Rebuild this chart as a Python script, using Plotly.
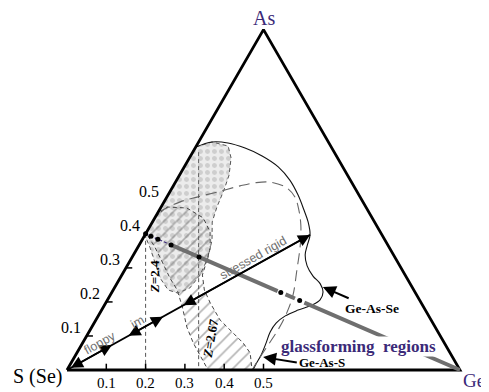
import numpy as np
import plotly.graph_objects as go

# ---------------- data: compositions as atomic fractions (Ge, As); S(Se) = 1 - Ge - As
vertex_labels = ["S (Se)", "Ge", "As"]
left_tick_values = [0.1, 0.2, 0.3, 0.4, 0.5]          # As fraction on S-As edge
left_tick_labels = ["0.1", "0.2", "0.3", "0.4", "0.5"]
bottom_tick_values = [0.1, 0.2, 0.3, 0.4, 0.5]        # Ge fraction on S-Ge edge
bottom_tick_labels = ["0.1", "0.2", "0.3", "0.4", "0.5"]
left_tick_marks = [0.1, 0.2, 0.3]
bottom_tick_marks = [0.1, 0.2, 0.3, 0.4, 0.5]

# Ge-As-Se glass-forming region (solid outline)
se_region_ge = [0, .034, .076, .127, .182, .239, .288, .331, .368, .396, .420, .428, .437,
                .458, .488, .518, .537, .541, .528, .500, .476, .463, .461, .467, .472, .472, .473]
se_region_as = [.655, .670, .667, .652, .629, .597, .558, .514, .470, .435, .397, .367, .338,
                .306, .276, .253, .229, .206, .191, .176, .159, .138, .112, .079, .044, .018, 0]

# Ge-As-S glass-forming region (long-dashed outline)
s_region_ge = [0, .041, .077, .121, .170, .203, .241, .292, .326, .355, .382, .410, .438,
               .465, .475, .478, .475, .472, .471]
s_region_as = [.464, .494, .508, .523, .541, .550, .552, .535, .508, .470, .426, .367, .294,
               .220, .170, .123, .073, .029, 0]

# hatched band (intermediate phase, Ge-As-S)
hatch_ge = [0, .015, .067, .123, .161, .185, .196, .205, .232, .266, .316, .368, .409, .441,
            .471, .359, .330, .282, .242, .201, .163, .127, .084, .045, .009, 0, 0]
hatch_as = [.45, .479, .476, .447, .406, .359, .317, .279, .235, .197, .147, .109, .079, .050,
            0, 0, .029, .079, .126, .185, .235, .270, .317, .359, .394, .40, .45]

# dotted band (intermediate phase, Ge-As-Se)
dot_ge = [0, .034, .081, .106, .126, .135, .142, .152, .178, .194, .199, .192, .169, .140,
          .102, .066, .032, .007, 0, 0]
dot_as = [.655, .670, .658, .623, .573, .529, .479, .435, .382, .329, .279, .241, .226, .235,
          .270, .317, .359, .388, .394, .655]

# mean coordination lines  Z = 2 + 2*Ge + As
z_values = [2.4, 2.67]
z_top_as = [0.40, 0.64]
z_labels = ["Z=2.4", "Z=2.67"]

# As2X3 - Ge tie line (t = Ge fraction along it)
tie_start_as = 0.40
tie_dots_t = [0, .017, .039, .081, .17, .43, .49]
tie_solid_segments = [(.081, .42), (.445, .475), (.505, 1.0)]

# S - GeAs direction line with floppy / intermediate / stressed rigid arrows
rig_end_ge, rig_end_as = 0.420, 0.397
regime_arrows_s = [(0.01, 0.185), (0.247, 0.395), (0.473, 1.0)]

SQ = np.sqrt(3) / 2


def cart(ge, a):
    ge = np.asarray(ge, dtype=float)
    a = np.asarray(a, dtype=float)
    return ge + a / 2, a * SQ


fig = go.Figure()
SERIF = "Liberation Serif, Times New Roman, serif"
SANS = "Liberation Sans, Arial, sans-serif"
PURPLE = "#3b2a78"

# dotted band
x, y = cart(dot_ge, dot_as)
fig.add_trace(go.Scatter(x=x, y=y, mode="lines", fill="toself", fillcolor="rgba(0,0,0,0)",
                         fillpattern=dict(shape=".", size=7, solidity=0.4, fgcolor="#b0b0b0",
                                          bgcolor="#ececec"),
                         line=dict(color="#555555", width=1, dash="4px,3px"), hoverinfo="skip"))
# hatched band
x, y = cart(hatch_ge, hatch_as)
fig.add_trace(go.Scatter(x=x, y=y, mode="lines", fill="toself", fillcolor="rgba(0,0,0,0)",
                         fillpattern=dict(shape="/", size=9, solidity=0.18, fgcolor="#6a6a6a",
                                          bgcolor="rgba(0,0,0,0)"),
                         line=dict(color="#444444", width=1, dash="4px,3px"), hoverinfo="skip"))
# Ge-As-Se outline
x, y = cart(se_region_ge, se_region_as)
fig.add_trace(go.Scatter(x=x, y=y, mode="lines", line=dict(color="#111111", width=1.1, shape="spline"),
                         hoverinfo="skip"))
# Ge-As-S outline
x, y = cart(s_region_ge, s_region_as)
fig.add_trace(go.Scatter(x=x, y=y, mode="lines",
                         line=dict(color="#666666", width=1.1, dash="11px,6px", shape="spline"),
                         hoverinfo="skip"))
# Z lines
for z, ta in zip(z_values, z_top_as):
    ge_top = (z - 2 - ta) / 2
    ge_bot = (z - 2) / 2
    x, y = cart([ge_top, ge_bot], [ta, 0])
    fig.add_trace(go.Scatter(x=x, y=y, mode="lines",
                             line=dict(color="#555555", width=1, dash="4px,3px"), hoverinfo="skip"))

# triangle
x, y = cart([0, 1, 0, 0], [0, 0, 1, 0])
fig.add_trace(go.Scatter(x=x, y=y, mode="lines", line=dict(color="black", width=2.8),
                         hoverinfo="skip"))

# ticks
tx, ty = [], []
for v in left_tick_marks:
    x0, y0 = cart(0, v)
    tx += [float(x0), float(x0) + 0.016, None]
    ty += [float(y0), float(y0), None]
for v in bottom_tick_marks:
    x0, y0 = cart(v, 0)
    tx += [float(x0), float(x0), None]
    ty += [0.0, 0.016, None]
fig.add_trace(go.Scatter(x=tx, y=ty, mode="lines", line=dict(color="black", width=1.5),
                         hoverinfo="skip"))

# tie line
def tie(t):
    t = np.asarray(t, dtype=float)
    return cart(t, tie_start_as * (1 - t))

x, y = tie([0, 0.081])
fig.add_trace(go.Scatter(x=x, y=y, mode="lines", line=dict(color=PURPLE, width=1.2, dash="3px,2px"),
                         hoverinfo="skip"))
for a, b in tie_solid_segments:
    x, y = tie([a, b])
    fig.add_trace(go.Scatter(x=x, y=y, mode="lines", line=dict(color="#6f6f6f", width=4),
                             hoverinfo="skip"))
x, y = tie(tie_dots_t)
fig.add_trace(go.Scatter(x=x, y=y, mode="markers", marker=dict(color="black", size=5),
                         hoverinfo="skip"))

# rigidity direction line
x, y = cart([0, rig_end_ge], [0, rig_end_as])
fig.add_trace(go.Scatter(x=x, y=y, mode="lines", line=dict(color="black", width=1.8),
                         hoverinfo="skip"))

ann = []
for s0, s1 in regime_arrows_s:
    x0, y0 = cart(rig_end_ge * s0, rig_end_as * s0)
    x1, y1 = cart(rig_end_ge * s1, rig_end_as * s1)
    ann.append(dict(x=float(x1), y=float(y1), ax=float(x0), ay=float(y0), xref="x", yref="y",
                    axref="x", ayref="y", text="", showarrow=True, arrowside="end+start",
                    arrowhead=2, startarrowhead=2, arrowsize=1.5, startarrowsize=1.5,
                    arrowwidth=1.6, arrowcolor="black", standoff=0, startstandoff=0))


def pt(ge, a):
    x0, y0 = cart(ge, a)
    return float(x0), float(y0)


def text(ge, a, s, size, color="black", family=SERIF, angle=0, bg=None, **kw):
    x0, y0 = pt(ge, a)
    d = dict(x=x0, y=y0, xref="x", yref="y", text=s, showarrow=False, textangle=angle,
             font=dict(size=size, color=color, family=family))
    if bg:
        d["bgcolor"] = bg
    d.update(kw)
    ann.append(d)


# arrows to region labels
for tip, tail in [((.529, .244), (.616, .209)), ((.480, .038), (.578, .021))]:
    x1, y1 = pt(*tip)
    x0, y0 = pt(*tail)
    ann.append(dict(x=x1, y=y1, ax=x0, ay=y0, xref="x", yref="y", axref="x", ayref="y",
                    text="", showarrow=True, arrowhead=2, arrowsize=1.3, arrowwidth=2,
                    arrowcolor="black", standoff=0))

text(.685, .182, "<b>Ge-As-Se</b>", 13.5)
text(.637, .022, "<b>Ge-As-S</b>", 13)
text(.706, .070, "<b>glassforming\u00a0 regions</b>", 17, color=PURPLE, bg="white", borderpad=0)
text(.309, .329, "stressed rigid", 12.5, color="#707070", family=SANS, angle=-29.5)
text(.044, .079, "floppy", 12.5, color="#707070", family=SANS, angle=-29.5)
text(.110, .141, "im", 12.5, color="#707070", family=SANS, angle=-29.5)
text(.085, .273, "<b><i>Z</i>=2.4</b>", 13, angle=-90)
text(.317, .094, "<b><i>Z</i>=2.67</b>", 13, angle=-80)

# vertex labels
vx = {"S (Se)": (0, 0, -30, -6, "black", 20), "Ge": (1, 0, 14, -10, PURPLE, 19),
      "As": (0, 1, 0, 12, PURPLE, 20)}
for lab in vertex_labels:
    ge, a, dx, dy, col, fs = vx[lab]
    x0, y0 = pt(ge, a)
    ann.append(dict(x=x0, y=y0, xref="x", yref="y", text=lab, showarrow=False, xshift=dx,
                    yshift=dy, font=dict(size=fs, color=col, family=SERIF)))

for v, lab in zip(left_tick_values, left_tick_labels):
    x0, y0 = pt(0, v)
    ann.append(dict(x=x0, y=y0, xref="x", yref="y", text=lab, showarrow=False, xshift=-16,
                    yshift=8, font=dict(size=16, color="black", family=SERIF)))
for v, lab in zip(bottom_tick_values, bottom_tick_labels):
    x0, y0 = pt(v, 0)
    ann.append(dict(x=x0, y=y0, xref="x", yref="y", text=lab, showarrow=False, xshift=0,
                    yshift=-13, font=dict(size=15, color="black", family=SERIF)))

# the page body adds an 8px margin, so the figure is 481x384 and the ranges are offset by 8px
W, H, OFF = 481, 384, 8
PX = 393.0   # pixels per unit of triangle side
fig.update_layout(
    width=W, height=H, margin=dict(l=0, r=0, t=0, b=0),
    paper_bgcolor="white", plot_bgcolor="white", showlegend=False,
    xaxis=dict(range=[-(67 - OFF) / PX, (W - (67 - OFF)) / PX], visible=False, fixedrange=True),
    yaxis=dict(range=[((370 - OFF) - H) / PX, (370 - OFF) / PX], visible=False, fixedrange=True),
    annotations=ann,
)
fig.write_html("out.html")
